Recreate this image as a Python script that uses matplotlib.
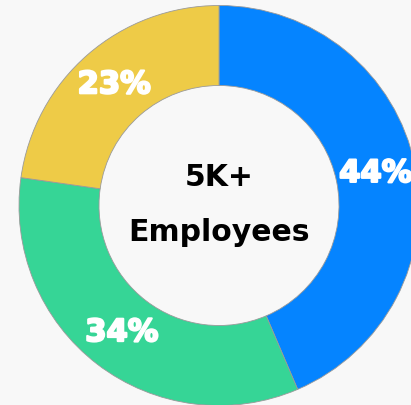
import matplotlib
matplotlib.use("Agg")
import matplotlib.pyplot as plt
import matplotlib.patheffects as pe
import numpy as np

# company size split
labels = ["44%", "34%", "23%"]
shares = [44, 34, 23]
colors = ["#0584FF", "#36D596", "#EECB47"]

bg = "#F8F8F8"

fig = plt.figure(figsize=(4.11, 4.05), dpi=100, facecolor=bg)
ax = fig.add_axes([0, 0, 1, 1])
ax.set_facecolor(bg)

ring = 0.4
wedges, _ = ax.pie(
    shares,
    colors=colors,
    startangle=90,
    counterclock=False,
    radius=1.0,
    wedgeprops=dict(width=ring, edgecolor="#9a9a9a", linewidth=0.6),
)

# percentage labels in the middle of each ring segment
heavy = [pe.withStroke(linewidth=1.6, foreground="white")]
for w, lab in zip(wedges, labels):
    ang = np.deg2rad((w.theta1 + w.theta2) / 2)
    r = 1.0 - ring / 2
    ax.text(r * np.cos(ang), r * np.sin(ang), lab, ha="center", va="center",
            color="white", fontsize=22, fontweight="bold",
            family="DejaVu Sans", path_effects=heavy)

ax.text(0, 0.0975, "5K+", ha="center", va="baseline", fontsize=21.5,
        fontweight="bold", family="DejaVu Sans", color="black")
ax.text(0, -0.1775, "Employees", ha="center", va="baseline", fontsize=21.5,
        fontweight="bold", family="DejaVu Sans", color="black")

ax.set_xlim(-1.095, 0.96)
ax.set_ylim(-0.9975, 1.0275)
ax.set_aspect("auto")
ax.axis("off")

fig.savefig("out.png", dpi=100, facecolor=bg)
